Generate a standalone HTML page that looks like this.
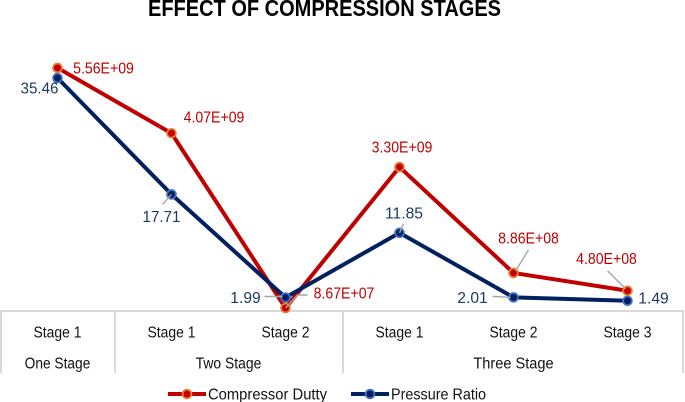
<!DOCTYPE html>
<html>
<head>
<meta charset="utf-8">
<style>
html,body{margin:0;padding:0;background:#fff;width:685px;height:402px;overflow:hidden}
svg{display:block}
text{font-family:"Liberation Sans",sans-serif}
</style>
</head>
<body>
<svg id="chart" width="685" height="402" viewBox="0 0 685 402" xmlns="http://www.w3.org/2000/svg">
  <text x="324.5" y="16" text-anchor="middle" font-size="23" font-weight="700" fill="#000" textLength="353" lengthAdjust="spacingAndGlyphs">EFFECT OF COMPRESSION STAGES</text>
  <g id="table" stroke="#d9d9d9" stroke-width="2" fill="none">
    <line x1="0" y1="311" x2="684" y2="311"/>
    <line x1="1" y1="311" x2="1" y2="373"/>
    <line x1="115" y1="311" x2="115" y2="373"/>
    <line x1="343" y1="311" x2="343" y2="373"/>
    <line x1="683" y1="311" x2="683" y2="373"/>
  </g>
  <g id="stage-labels"></g>
  <g id="group-labels"></g>
  <g id="leaders" stroke="#a6a6a6" stroke-width="1.4" fill="none"></g>
  <g id="series"></g>
  <g id="data-labels"></g>
  <g>
    <g>
      <line x1="168" y1="394" x2="206" y2="394" stroke="#c00000" stroke-width="4"/>
      <circle cx="187" cy="394" r="4.4" fill="#c00000" stroke="#ed7d31" stroke-width="1.8"/>
      <text x="208" y="399.5" font-size="16" fill="#111" textLength="119" lengthAdjust="spacingAndGlyphs">Compressor Dutty</text>
    </g>
    <g>
      <line x1="351" y1="394" x2="389" y2="394" stroke="#002060" stroke-width="4"/>
      <circle cx="370" cy="394" r="4.4" fill="#002060" stroke="#4472c4" stroke-width="1.8"/>
      <text x="391" y="399.5" font-size="16" fill="#111" textLength="95" lengthAdjust="spacingAndGlyphs">Pressure Ratio</text>
    </g>
  </g>
</svg>
<script>
const stages = ['Stage 1', 'Stage 1', 'Stage 2', 'Stage 1', 'Stage 2', 'Stage 3'];
const groups = ['One Stage', 'Two Stage', 'Three Stage'];
const groupSpans = [[0, 0], [1, 2], [3, 5]];
const compressorDuty = [5.56e9, 4.07e9, 8.67e7, 3.30e9, 8.86e8, 4.80e8];
const pressureRatio = [35.46, 17.71, 1.99, 11.85, 2.01, 1.49];
const compressorLabels = ['5.56E+09', '4.07E+09', '8.67E+07', '3.30E+09', '8.86E+08', '4.80E+08'];
const pressureLabels = ['35.46', '17.71', '1.99', '11.85', '2.01', '1.49'];

const NS = 'http://www.w3.org/2000/svg';
function xPos(i) { return 57.5 + i * 114; }
function yDuty(v) { return 311.8 - v * 43.87e-9; }
function yRatio(v) { return 310.55 - v * 6.558; }

function make(tag, parent, attrs) {
  const el = document.createElementNS(NS, tag);
  for (const k in attrs) el.setAttribute(k, attrs[k]);
  parent.appendChild(el);
  return el;
}

/* placement of each value label relative to its point: [dx to label centre, dy to baseline] */
function dutyLabelOffset(i) {
  return [[46, 5.5], [42.5, -10.5], [58.5, -9.5], [2.5, -14.5], [15, -29.5], [-21, -26.5]][i];
}
function ratioLabelOffset(i) {
  return [[-18, 15.5], [-10, 27.5], [-40, 5.5], [4.5, -14.5], [-41, 5.5], [26, 2.5]][i];
}
/* leader lines relative to each point, only where the reference draws one */
function dutyLeader(i) {
  return [null, null, [[0, 0], [12, -13], [22, -13]], null, [[2, -2], [15, -23]], [[-2, -2], [-20, -20]]][i];
}
function ratioLeader(i) {
  return [null, [[0, 0], [-9, 10]], [[-3, -1], [-21, -1]], [[0, 0], [4, -9]], [[-3, 0], [-21, -1]], null][i];
}

const stageG = document.getElementById('stage-labels');
stages.forEach(function (s, i) {
  const t = make('text', stageG, { x: xPos(i), y: 337.5, 'text-anchor': 'middle', 'font-size': 15.5, fill: '#111', textLength: 48, lengthAdjust: 'spacingAndGlyphs' });
  
  
  t.textContent = s;
});

const groupG = document.getElementById('group-labels');
groups.forEach(function (g, i) {
  const cx = (xPos(groupSpans[i][0]) + xPos(groupSpans[i][1])) / 2;
  const t = make('text', groupG, { x: cx, y: 368.5, 'text-anchor': 'middle', 'font-size': 15.5, fill: '#111', textLength: g.length * 7.3, lengthAdjust: 'spacingAndGlyphs' });
  
  
  t.textContent = g;
});

const seriesG = document.getElementById('series');
const leaderG = document.getElementById('leaders');
const labelG = document.getElementById('data-labels');

function drawSeries(values, yFn, color, ring, labels, offsetFn, leaderFn, textColor, key) {
  const pts = values.map(function (v, i) { return xPos(i) + ',' + yFn(v); }).join(' ');
  const line = make('polyline', seriesG, { points: pts, fill: 'none', stroke: color, 'stroke-width': 4, 'stroke-linejoin': 'round' });
  
  
  values.forEach(function (v, i) {
    const c = make('circle', seriesG, { cx: xPos(i), cy: yFn(v), r: 4.4, fill: color, stroke: ring, 'stroke-width': 1.8 });
    
    
    const off = offsetFn(i);
    const t = make('text', labelG, { x: xPos(i) + off[0], y: yFn(v) + off[1], 'text-anchor': 'middle', 'font-size': 16, fill: textColor, textLength: labels[i].length * 7.6, lengthAdjust: 'spacingAndGlyphs' });
    
    
    t.textContent = labels[i];
    const lead = leaderFn(i);
    if (lead) {
      const p = lead.map(function (q) { return (xPos(i) + q[0]) + ',' + (yFn(v) + q[1]); }).join(' ');
      const l = make('polyline', leaderG, { points: p });
      
      
    }
  });
}

drawSeries(compressorDuty, yDuty, '#c00000', '#ed7d31', compressorLabels, dutyLabelOffset, dutyLeader, '#c00000', 'compressor-duty');
drawSeries(pressureRatio, yRatio, '#002060', '#4472c4', pressureLabels, ratioLabelOffset, ratioLeader, '#1f3864', 'pressure-ratio');
document.getElementById('chart').appendChild(leaderG);
document.getElementById('chart').appendChild(labelG);
</script>
</body>
</html>
